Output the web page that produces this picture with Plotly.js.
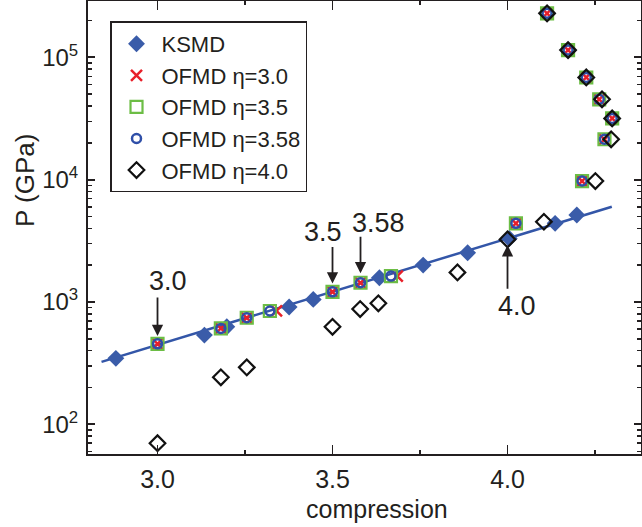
<!DOCTYPE html>
<html>
<head>
<meta charset="utf-8">
<script src="https://cdn.plot.ly/plotly-3.0.1.min.js"></script>
<style>html,body{margin:0;padding:0;background:#fff;}#chart{width:642px;height:527px;}</style>
</head>
<body>
<div id="chart"></div>
<script>
// KSMD
const ksmdX = [2.881, 3.134, 3.198, 3.376, 3.445, 3.634, 3.759, 3.886, 4.005, 4.136, 4.198];
const ksmdY = [346, 536, 627, 910, 1050, 1578, 2003, 2525, 3300, 4393, 5140];
// fit line through KSMD
const fitX = [2.84, 4.298];
const fitY = [324, 6000];
// OFMD eta=3.0
const eta30X = [3.0, 3.181, 3.255, 3.34, 3.5, 3.58, 3.685, 4.024, 4.213, 4.277, 4.299, 4.262, 4.225, 4.173, 4.113];
const eta30Y = [455, 608, 743, 844, 1211, 1436, 1629, 4393, 9750, 21400, 31700, 45400, 68500, 114700, 229000];
// OFMD eta=3.5
const eta35X = [3.0, 3.181, 3.255, 3.321, 3.5, 3.58, 3.667, 4.024, 4.213, 4.277, 4.299, 4.262, 4.225, 4.173, 4.113];
const eta35Y = [455, 608, 743, 844, 1211, 1436, 1629, 4393, 9750, 21400, 31700, 45400, 68500, 114700, 229000];
// OFMD eta=3.58
const eta358X = [3.0, 3.181, 3.255, 3.321, 3.5, 3.58, 3.667, 4.024, 4.213, 4.277, 4.299, 4.262, 4.225, 4.173, 4.113];
const eta358Y = [455, 608, 743, 844, 1211, 1436, 1629, 4393, 9750, 21400, 31700, 45400, 68500, 114700, 229000];
// OFMD eta=4.0
const eta40X = [3.0, 3.181, 3.255, 3.5, 3.579, 3.631, 3.857, 4.0, 4.104, 4.251, 4.296, 4.299, 4.27, 4.225, 4.173, 4.113];
const eta40Y = [70, 242, 292, 627, 875, 975, 1746, 3250, 4529, 9750, 21400, 31700, 45400, 68500, 114700, 229000];

const xTickVals = [3.0, 3.5, 4.0];
const xTickText = ['3.0', '3.5', '4.0'];
const xMinorVals = [3.25, 3.75, 4.25];
const yTickVals = [100, 1000, 10000, 100000];
const yTickText = ['10<sup>2</sup>', '10<sup>3</sup>', '10<sup>4</sup>', '10<sup>5</sup>'];
const yMinorVals = [];
[10, 100, 1000, 10000, 100000].forEach(d => { for (let m = 2; m <= 9; m++) yMinorVals.push(m * d); });

const FONT = '"Liberation Sans", Arial, Helvetica, sans-serif';
const INK = '#231f20';

const traces = [
  {x: fitX, y: fitY, mode: 'lines', line: {color: '#3356a8', width: 2.5}, showlegend: false, hoverinfo: 'skip'},
  {x: ksmdX, y: ksmdY, mode: 'markers', name: 'KSMD',
   marker: {symbol: 'diamond', size: 13, color: '#3a5ca9', line: {width: 0}}},
  {x: eta30X, y: eta30Y, mode: 'markers', name: 'OFMD η=3.0',
   marker: {symbol: 'x-thin-open', size: 11, color: '#e8202a', line: {color: '#e8202a', width: 2.5}}},
  {x: eta35X, y: eta35Y, mode: 'markers', name: 'OFMD η=3.5',
   marker: {symbol: 'square-open', size: 12, color: '#6cbd45', line: {color: '#6cbd45', width: 2.2}}},
  {x: eta358X, y: eta358Y, mode: 'markers', name: 'OFMD η=3.58',
   marker: {symbol: 'circle-open', size: 9, color: '#2f4fa8', line: {color: '#2f4fa8', width: 2.5}}},
  {x: eta40X, y: eta40Y, mode: 'markers', name: 'OFMD η=4.0',
   marker: {symbol: 'diamond-open', size: 12, color: '#111', line: {color: '#111', width: 2.2}}}
];

// annotation positions on a log axis are given in log10 units
function arrow(x, y, ay) {
  return {x: x, y: Math.log10(y), xref: 'x', yref: 'y', ax: 0, ay: ay, text: '', showarrow: true,
          arrowhead: 2, arrowsize: 1.25, arrowwidth: 1.8, arrowcolor: INK, standoff: 0, startstandoff: 0};
}
function label(x, y, t) {
  return {x: x, y: Math.log10(y), xref: 'x', yref: 'y', text: t, showarrow: false,
          xanchor: 'center', yanchor: 'middle', font: {family: FONT, size: 27, color: INK}};
}

const layout = {
  width: 642, height: 527,
  margin: {l: 88, r: 1, t: 1, b: 73, pad: 0},
  paper_bgcolor: '#fff', plot_bgcolor: '#fff',
  font: {family: FONT, size: 24, color: INK},
  xaxis: {
    range: [2.8014, 4.3814], showgrid: false, zeroline: false,
    showline: true, linewidth: 2, linecolor: INK, mirror: 'ticks',
    tickmode: 'array', tickvals: xTickVals, ticktext: xTickText,
    ticks: 'inside', ticklen: 9, tickwidth: 1.8, tickcolor: INK,
    ticklabelstandoff: 2,
    tickfont: {family: FONT, size: 25, color: INK},
    minor: {tickmode: 'array', tickvals: xMinorVals, ticks: 'inside', ticklen: 4, tickwidth: 1.8, tickcolor: INK, showgrid: false}
  },
  yaxis: {
    type: 'log', range: [1.757, 5.461], showgrid: false, zeroline: false,
    showline: true, linewidth: 2, linecolor: INK, mirror: 'ticks',
    tickmode: 'array', tickvals: yTickVals, ticktext: yTickText,
    ticks: 'inside', ticklen: 7, tickwidth: 1.8, tickcolor: INK,
    ticklabelstandoff: 3,
    tickfont: {family: FONT, size: 24, color: INK},
    minor: {tickmode: 'array', tickvals: yMinorVals, ticks: 'inside', ticklen: 4, tickwidth: 1.5, tickcolor: INK, showgrid: false}
  },
  legend: {
    x: 0.0398, y: 0.955, xanchor: 'left', yanchor: 'top',
    bgcolor: '#fff', bordercolor: INK, borderwidth: 1.5,
    font: {family: FONT, size: 22, color: INK},
    itemsizing: 'trace', itemwidth: 40, tracegroupgap: 0
  },
  annotations: [
    arrow(3.0, 526, -40), label(3.03, 1483, '3.0'),
    arrow(3.5, 1419, -38), label(3.473, 3730, '3.5'),
    arrow(3.58, 1714, -38), label(3.63, 4416, '3.58'),
    arrow(4.0, 2916, 45), label(4.0264, 927, '4.0'),
    {xref: 'paper', yref: 'paper', x: (377 - 88) / 553, y: (454 - 509) / 453, text: 'compression',
     showarrow: false, xanchor: 'center', yanchor: 'middle', font: {family: FONT, size: 25, color: INK}},
    {xref: 'paper', yref: 'paper', x: (25 - 88) / 553, y: (454 - 181) / 453, text: 'P (GPa)', textangle: -90,
     showarrow: false, xanchor: 'center', yanchor: 'middle', font: {family: FONT, size: 26, color: INK}}
  ]
};

Plotly.newPlot('chart', traces, layout, {displayModeBar: false, staticPlot: true});
</script>
</body>
</html>
